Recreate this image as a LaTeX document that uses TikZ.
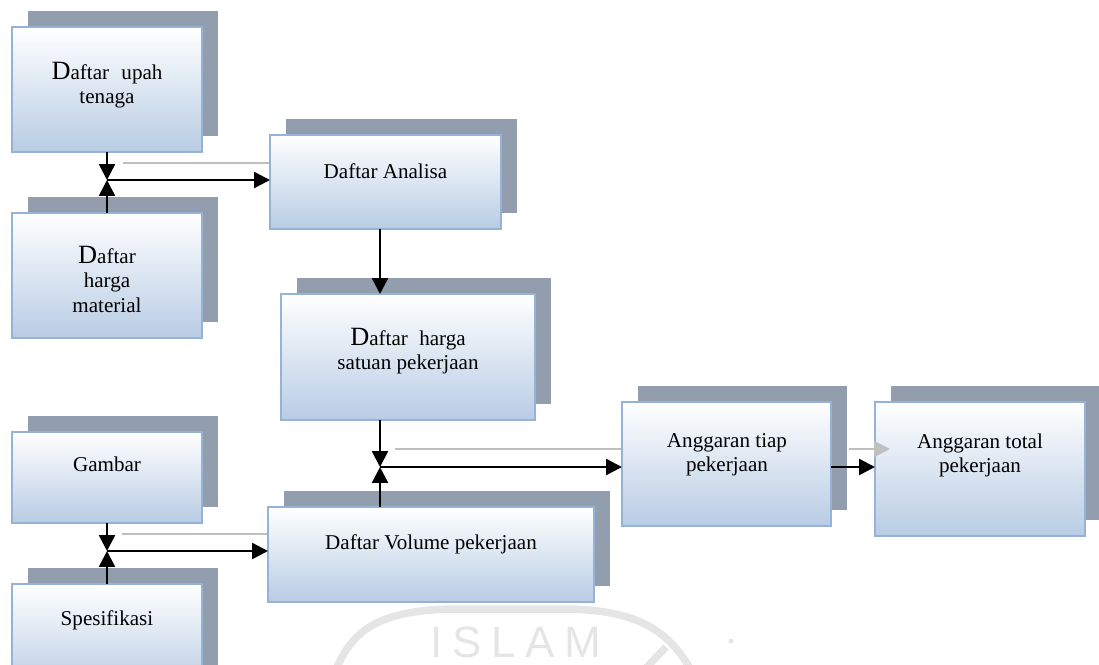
\documentclass[tikz,border=0pt]{standalone}
\usepackage{fontspec}
\setmainfont{Liberation Serif}
\newfontfamily\wmfont{Liberation Sans}
\usetikzlibrary{arrows.meta,fit,backgrounds}
\definecolor{shadowgray}{RGB}{146,158,174}
\definecolor{boxborder}{RGB}{149,179,215}
\definecolor{boxblue}{RGB}{184,204,228}
\definecolor{ghostgray}{RGB}{191,191,191}
\definecolor{wmgray}{RGB}{229,229,229}
\newcommand\bigD{{\fontsize{15}{14.2}\selectfont D}}
\newcommand\shbox[5]{%
  \node[shadowbox, fit={(#2+16,#3-16) (#4+16,#5-16)}] (#1s) {};
  \node[mainbox, fit={(#2,#3) (#4,#5)}] (#1) {};
}
\newcommand\lbl[3]{%
  \node[lbltext] (t#1) at (#2) {\begin{tabular}[t]{@{}c@{}}#3\end{tabular}};
}
\begin{document}
\begin{tikzpicture}[x=0.02cm,y=-0.02cm,
  shadowbox/.style={rectangle, fill=shadowgray, draw=none, inner sep=0pt, outer sep=0pt},
  mainbox/.style={rectangle, draw=boxborder, line width=1.1pt, top color=white, bottom color=boxblue, inner sep=0pt, outer sep=0pt},
  lbltext/.style={inner sep=0pt, anchor=base, font=\fontsize{12}{14.2}\selectfont},
  arr/.style={line width=1.4pt, -{Triangle[length=9pt,width=9pt]}},
  ghostline/.style={draw=ghostgray, line width=1.2pt},
  ghostarr/.style={draw=ghostgray, line width=1.2pt, -{Triangle[length=9pt,width=9pt]}},
  wm/.style={draw=wmgray, line width=0.15cm}]
\useasboundingbox (0,0) rectangle (1099,664);

% watermark
\draw[wm] (335,672) .. controls (352,628) and (382,611) .. (450,609) -- (570,609) .. controls (635,611) and (668,628) .. (692,672);
\draw[wm] (666,647) -- (644,670);
\fill[wmgray] (731,641) circle (2.5);
\node[inner sep=0pt, anchor=base, text=wmgray, font=\wmfont\fontsize{25}{25}\selectfont\addfontfeature{LetterSpace=22}] (wmtext) at (516,657) {ISLAM};

% junction and ghost coordinates
\coordinate (J1) at (107,180);
\coordinate (J2) at (380,467);
\coordinate (J3) at (107,551);
\coordinate (g1) at (123,163);
\coordinate (g2) at (395,449);
\coordinate (g3) at (122,534);
\coordinate (g4) at (849,449);
\coordinate (g4e) at (890,449);

% boxes
\shbox{A}{12}{27}{202}{152}
\shbox{B}{12}{213}{202}{338}
\shbox{C}{270}{135}{501}{229}
\shbox{D}{281}{294}{535}{420}
\shbox{E}{12}{432}{202}{523}
\shbox{F}{12}{584}{202}{690}
\shbox{G}{268}{507}{594}{602}
\shbox{H}{622}{402}{831}{526}
\shbox{I}{875}{402}{1085}{536}

% ghost (shadow) lines behind the boxes
\begin{pgfonlayer}{background}
\draw[ghostline] (g1) -- (C.west |- g1);
\draw[ghostline] (g2) -- (H.west |- g2);
\draw[ghostline] (g3) -- (G.west |- g3);
\end{pgfonlayer}
\draw[ghostarr] (g4) -- (g4e);

% texts
\lbl{A}{107,79}{\bigD aftar\hspace{7pt}upah\\tenaga}
\lbl{B}{107,263}{\bigD aftar\\harga\\material}
\lbl{C}{385.5,178}{Daftar Analisa}
\lbl{D}{408,345}{\bigD aftar\hspace{6.5pt}harga\\satuan pekerjaan}
\lbl{E}{107,471}{Gambar}
\lbl{F}{107,625}{Spesifikasi}
\lbl{G}{431,549}{Daftar Volume pekerjaan}
\lbl{H}{727,447}{Anggaran tiap\\pekerjaan}
\lbl{I}{980,448}{Anggaran total\\pekerjaan}

% connectors
\draw[arr] (A.south -| J1) -- (J1);
\draw[arr] (B.north -| J1) -- (J1);
\draw[arr] (J1) -- (C.west |- J1);
\draw[arr] (C.south -| J2) -- (D.north -| J2);
\draw[arr] (D.south -| J2) -- (J2);
\draw[arr] (G.north -| J2) -- (J2);
\draw[arr] (J2) -- (H.west |- J2);
\draw[arr] (H.east |- J2) -- (I.west |- J2);
\draw[arr] (E.south -| J3) -- (J3);
\draw[arr] (F.north -| J3) -- (J3);
\draw[arr] (J3) -- (G.west |- J3);
\end{tikzpicture}
\end{document}
